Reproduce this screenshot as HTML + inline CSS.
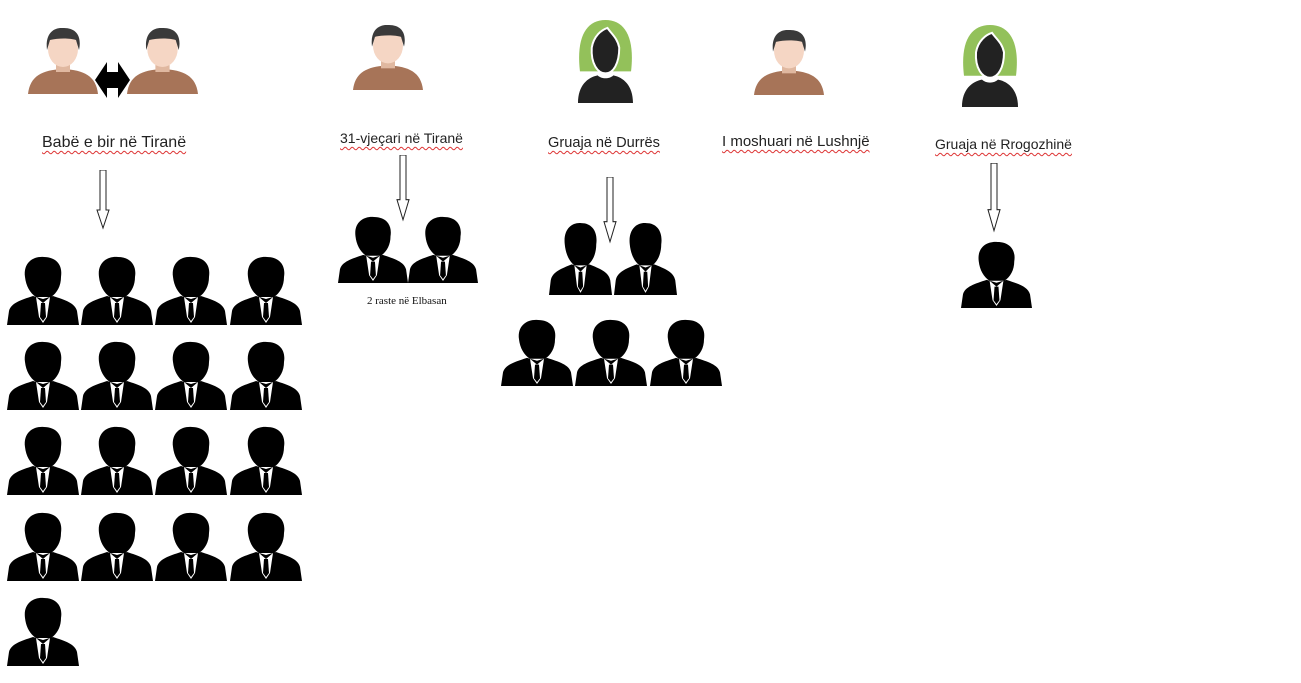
<!DOCTYPE html>
<html><head><meta charset="utf-8"><style>
body{margin:0;width:1301px;height:683px;background:#fff;position:relative;overflow:hidden}
svg{position:absolute;left:0;top:0}
.t{position:absolute;font-family:"Liberation Sans",sans-serif;font-size:14px;color:#222;white-space:nowrap;text-decoration:underline wavy #d33;text-decoration-thickness:1px;text-underline-offset:3px}
.s{position:absolute;font-family:"Liberation Serif",serif;font-size:11px;color:#111}
</style></head><body>
<svg width="1301" height="683" viewBox="0 0 1301 683">
<defs>
<symbol id="b" viewBox="0 0 72 70" preserveAspectRatio="none">
<path d="M18 22 C16 7 27 1 37 2 C49 2 56 10 54 22 C54 31 50 38 44 42 L29 42 C23 38 19 31 18 22Z" fill="#000"/>
<path d="M0 70 L2 56 C4 48 14 45 26 41 L36 44 L46 41 C58 45 68 48 70 56 L72 70Z" fill="#000"/>
<path d="M29 42 L36 48 L43 42 L40 62 L36 68 L32 62Z" fill="#fff"/>
<path d="M34 48 L38 48 L39 62 L36 66 L33 62Z" fill="#000"/>
</symbol>
<symbol id="m" viewBox="0 0 70 66" preserveAspectRatio="none">
<path d="M0 66 C2 48 14 42 35 41 C56 42 68 48 70 66Z" fill="#a77458"/>
<rect x="28" y="32" width="14" height="12" fill="#e0b8a0"/>
<ellipse cx="35" cy="21" rx="15" ry="18" fill="#f5d6c4"/>
<path d="M19 22 C17 6 25 -1 36 0 C48 0 54 8 51 22 L48 12 C42 10 30 10 22 12Z" fill="#3a3a3a"/>
</symbol>
<symbol id="w" viewBox="0 0 56 84" preserveAspectRatio="none">
<path d="M2 52 C-2 18 8 0 28 0 C48 0 58 18 54 52Z" fill="#93c15a"/>
<path d="M14 28 C16 16 24 10 30 8 C34 14 40 18 42 28 C42 44 36 54 28 54 C20 54 13 44 14 28Z" fill="#222" stroke="#fff" stroke-width="2"/>
<path d="M0 84 C0 66 10 58 20 56 C24 60 32 60 36 56 C46 58 56 66 56 84Z" fill="#222"/>
</symbol>
<symbol id="a" viewBox="0 0 14 60" preserveAspectRatio="none">
<path d="M4 0 H10 V40 H13 L7 58 L1 40 H4Z" fill="#fff" stroke="#222" stroke-width="1"/>
</symbol>
</defs>
<use href="#m" x="28" y="28" width="70" height="66"/>
<use href="#m" x="127" y="28" width="71" height="66"/>
<path d="M95 80 L107 62 L107 72 L118 72 L118 62 L130 80 L118 98 L118 88 L107 88 L107 98Z" fill="#000"/>
<use href="#m" x="353" y="25" width="70" height="65"/>
<use href="#m" x="754" y="30" width="70" height="65"/>
<use href="#w" x="578" y="20" width="55" height="83"/>
<use href="#w" x="962" y="25" width="56" height="82"/>
<use href="#a" x="96" y="170" width="14" height="60"/>
<use href="#a" x="396" y="155" width="14" height="67"/>
<use href="#a" x="603" y="177" width="14" height="67"/>
<use href="#a" x="987" y="163" width="14" height="70"/>
<g>
<use href="#b" x="7" y="255" width="72" height="70"/><use href="#b" x="81" y="255" width="72" height="70"/><use href="#b" x="155" y="255" width="72" height="70"/><use href="#b" x="230" y="255" width="72" height="70"/>
<use href="#b" x="7" y="340" width="72" height="70"/><use href="#b" x="81" y="340" width="72" height="70"/><use href="#b" x="155" y="340" width="72" height="70"/><use href="#b" x="230" y="340" width="72" height="70"/>
<use href="#b" x="7" y="425" width="72" height="70"/><use href="#b" x="81" y="425" width="72" height="70"/><use href="#b" x="155" y="425" width="72" height="70"/><use href="#b" x="230" y="425" width="72" height="70"/>
<use href="#b" x="7" y="511" width="72" height="70"/><use href="#b" x="81" y="511" width="72" height="70"/><use href="#b" x="155" y="511" width="72" height="70"/><use href="#b" x="230" y="511" width="72" height="70"/>
<use href="#b" x="7" y="596" width="72" height="70"/>
<use href="#b" x="338" y="215" width="70" height="68"/><use href="#b" x="408" y="215" width="70" height="68"/>
<use href="#b" x="549" y="221" width="63" height="74"/><use href="#b" x="614" y="221" width="63" height="74"/>
<use href="#b" x="501" y="318" width="72" height="68"/><use href="#b" x="575" y="318" width="72" height="68"/><use href="#b" x="650" y="318" width="72" height="68"/>
<use href="#b" x="961" y="240" width="71" height="68"/>
</g>
</svg>
<div class="t" style="left:42px;top:134px;font-size:16px">Babë e bir në Tiranë</div>
<div class="t" style="left:340px;top:130px">31-vjeçari në Tiranë</div>
<div class="t" style="left:548px;top:135px;font-size:14.6px">Gruaja në Durrës</div>
<div class="t" style="left:722px;top:133px;font-size:15px">I moshuari në Lushnjë</div>
<div class="t" style="left:935px;top:136px">Gruaja në Rrogozhinë</div>
<div class="s" style="left:367px;top:295px">2 raste në Elbasan</div>
</body></html>
